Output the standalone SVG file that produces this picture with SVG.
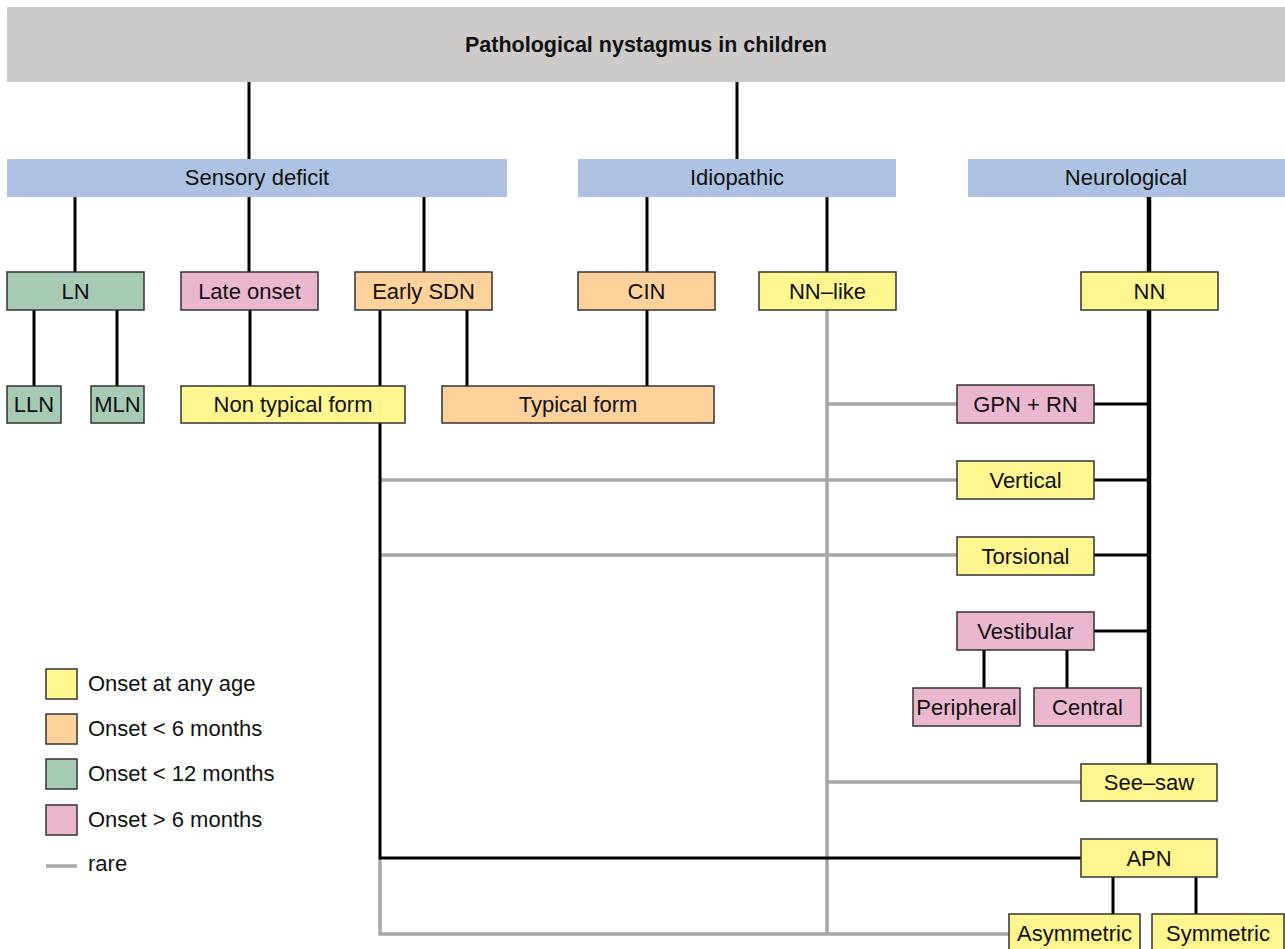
<svg xmlns="http://www.w3.org/2000/svg" width="1285" height="949" viewBox="0 0 1285 949">
<style>
text{font-family:"Liberation Sans",Arial,sans-serif;font-size:22px;fill:#111;text-anchor:middle}
.t{font-weight:bold;font-size:21.5px}
.lg{text-anchor:start}
.bar{stroke:none}
.bx{stroke:#333;stroke-width:1.5}
.y{fill:#fff68f}.o{fill:#fed29a}.g{fill:#a6cab4}.p{fill:#ebb7cf}.b{fill:#adc2e2}.gr{fill:#cccbc9}
.k{stroke:#000;stroke-width:3;fill:none}
.kk{stroke:#000;stroke-width:4.5;fill:none}
.r{stroke:#a8a7a5;stroke-width:3.5;fill:none}
</style>
<g id="connectors">
<path class="r" d="M827,310V934M827,404H957M380,480H957M380,555H957M827,782H1081M380,858V934H1009"/>
<path class="k" d="M249,82V159M737,82V159M75,197V272M249,197V272M424,197V272M647,197V272M827,197V272M34,310V386M117,310V386M250,310V386M380,310V858H1081M467,310V386M647,310V386M1094,404H1149M1094,480H1149M1094,555H1149M1094,631H1149M984,650V688M1067,650V688M1113,877V914M1196,877V914"/>
<path class="kk" d="M1149,197V272M1149,310V764"/>
</g>
<g id="title"><rect class="bar gr" x="7" y="7" width="1278" height="75"/><text class="t" x="646" y="52">Pathological nystagmus in children</text></g>
<g id="sensory"><rect class="bar b" x="7" y="159" width="500" height="38"/><text x="257" y="185">Sensory deficit</text></g>
<g id="idiopathic"><rect class="bar b" x="578" y="159" width="318" height="38"/><text x="737" y="185">Idiopathic</text></g>
<g id="neurological"><rect class="bar b" x="968" y="159" width="317" height="38"/><text x="1126" y="185">Neurological</text></g>
<g id="ln"><rect class="bx g" x="7" y="272" width="137" height="38"/><text x="75.5" y="299">LN</text></g>
<g id="late"><rect class="bx p" x="181" y="272" width="137" height="38"/><text x="249.5" y="299">Late onset</text></g>
<g id="earlysdn"><rect class="bx o" x="355" y="272" width="137" height="38"/><text x="423.5" y="299">Early SDN</text></g>
<g id="cin"><rect class="bx o" x="578" y="272" width="137" height="38"/><text x="646.5" y="299">CIN</text></g>
<g id="nnlike"><rect class="bx y" x="759" y="272" width="137" height="38"/><text x="827.5" y="299">NN–like</text></g>
<g id="nn"><rect class="bx y" x="1081" y="272" width="137" height="38"/><text x="1149.5" y="299">NN</text></g>
<g id="lln"><rect class="bx g" x="7" y="386" width="54" height="37"/><text x="34" y="412">LLN</text></g>
<g id="mln"><rect class="bx g" x="91" y="386" width="53" height="37"/><text x="117.5" y="412">MLN</text></g>
<g id="nontypical"><rect class="bx y" x="181" y="386" width="224" height="37"/><text x="293" y="412">Non typical form</text></g>
<g id="typical"><rect class="bx o" x="442" y="386" width="272" height="37"/><text x="578" y="412">Typical form</text></g>
<g id="gpn"><rect class="bx p" x="957" y="385" width="137" height="38"/><text x="1025.5" y="412">GPN + RN</text></g>
<g id="vertical"><rect class="bx y" x="957" y="461" width="137" height="38"/><text x="1025.5" y="488">Vertical</text></g>
<g id="torsional"><rect class="bx y" x="957" y="537" width="137" height="38"/><text x="1025.5" y="564">Torsional</text></g>
<g id="vestibular"><rect class="bx p" x="957" y="612" width="137" height="38"/><text x="1025.5" y="639">Vestibular</text></g>
<g id="peripheral"><rect class="bx p" x="913" y="688" width="107" height="38"/><text x="966.5" y="715">Peripheral</text></g>
<g id="central"><rect class="bx p" x="1034" y="688" width="107" height="38"/><text x="1087.5" y="715">Central</text></g>
<g id="seesaw"><rect class="bx y" x="1081" y="764" width="136" height="37"/><text x="1149" y="790">See–saw</text></g>
<g id="apn"><rect class="bx y" x="1081" y="839" width="136" height="38"/><text x="1149" y="866">APN</text></g>
<g id="asymmetric"><rect class="bx y" x="1009" y="914" width="131" height="40"/><text x="1074.5" y="941">Asymmetric</text></g>
<g id="symmetric"><rect class="bx y" x="1152" y="914" width="132" height="40"/><text x="1218" y="941">Symmetric</text></g>
<g id="legend">
<rect class="bx y" x="46" y="669" width="31" height="30"/><text class="lg" x="88" y="691">Onset at any age</text>
<rect class="bx o" x="46" y="714" width="31" height="30"/><text class="lg" x="88" y="736">Onset &lt; 6 months</text>
<rect class="bx g" x="46" y="759" width="31" height="30"/><text class="lg" x="88" y="781">Onset &lt; 12 months</text>
<rect class="bx p" x="46" y="805" width="31" height="30"/><text class="lg" x="88" y="827">Onset &gt; 6 months</text>
<line class="r" x1="46" y1="866" x2="77" y2="866"/><text class="lg" x="88" y="871">rare</text>
</g>
</svg>
